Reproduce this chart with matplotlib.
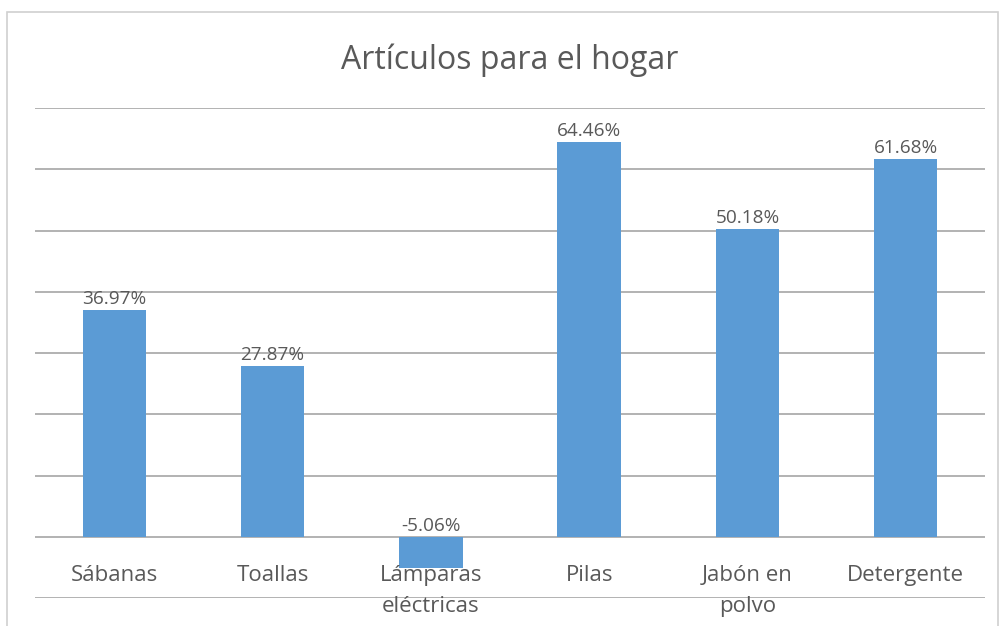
import numpy as np
import matplotlib.pyplot as plt
from matplotlib.patches import Rectangle
from matplotlib.transforms import offset_copy

categorias = ["Sábanas", "Toallas", "Lámparas\neléctricas", "Pilas", "Jabón en\npolvo", "Detergente"]
valores = [36.97, 27.87, -5.06, 64.46, 50.18, 61.68]
etiquetas = ["36.97%", "27.87%", "-5.06%", "64.46%", "50.18%", "61.68%"]

plt.rcParams["font.family"] = ["Open Sans", "DejaVu Sans"]
gris = "#595959"

fig = plt.figure(figsize=(10.03, 6.26), dpi=100)
fig.patches.append(Rectangle((7 / 1003, -0.01), 991 / 1003, 1 - 12 / 626 + 0.01,
                             transform=fig.transFigure, fill=False,
                             edgecolor="#d0d0d0", linewidth=1.2))
ax = fig.add_axes([35 / 1003, 28 / 626, 950 / 1003, 490 / 626])

x = np.arange(len(categorias))
ax.bar(x, valores, width=0.4, color="#5b9bd5", zorder=2)

ax.set_ylim(-10, 70)
ax.set_xlim(-0.5, len(categorias) - 0.5)
ax.set_yticks(np.arange(-10, 71, 10))
ax.yaxis.grid(True, color="#a6a6a6", linewidth=1.2)
ax.set_axisbelow(True)
ax.tick_params(left=False, bottom=False, labelleft=False, labelbottom=False)
for s in ax.spines.values():
    s.set_visible(False)

# etiquetas de valor
for xi, v, t in zip(x, valores, etiquetas):
    ax.annotate(t, (xi, max(v, 0)), xytext=(0, 8), textcoords="offset points",
                ha="center", va="center", fontsize=13.7, color=gris)

# categorias debajo de la linea de cero (una linea por texto)
for xi, c in zip(x, categorias):
    for i, linea in enumerate(c.split("\n")):
        tr = offset_copy(ax.transData, fig=fig, x=0, y=-26 - 22.5 * i, units="points")
        ax.text(xi, 0, linea, transform=tr, ha="center", va="center_baseline",
                fontsize=16, color=gris)

ax.set_title("Artículos para el hogar", fontsize=23, color=gris, pad=28)

fig.savefig("out.png", dpi=100)
